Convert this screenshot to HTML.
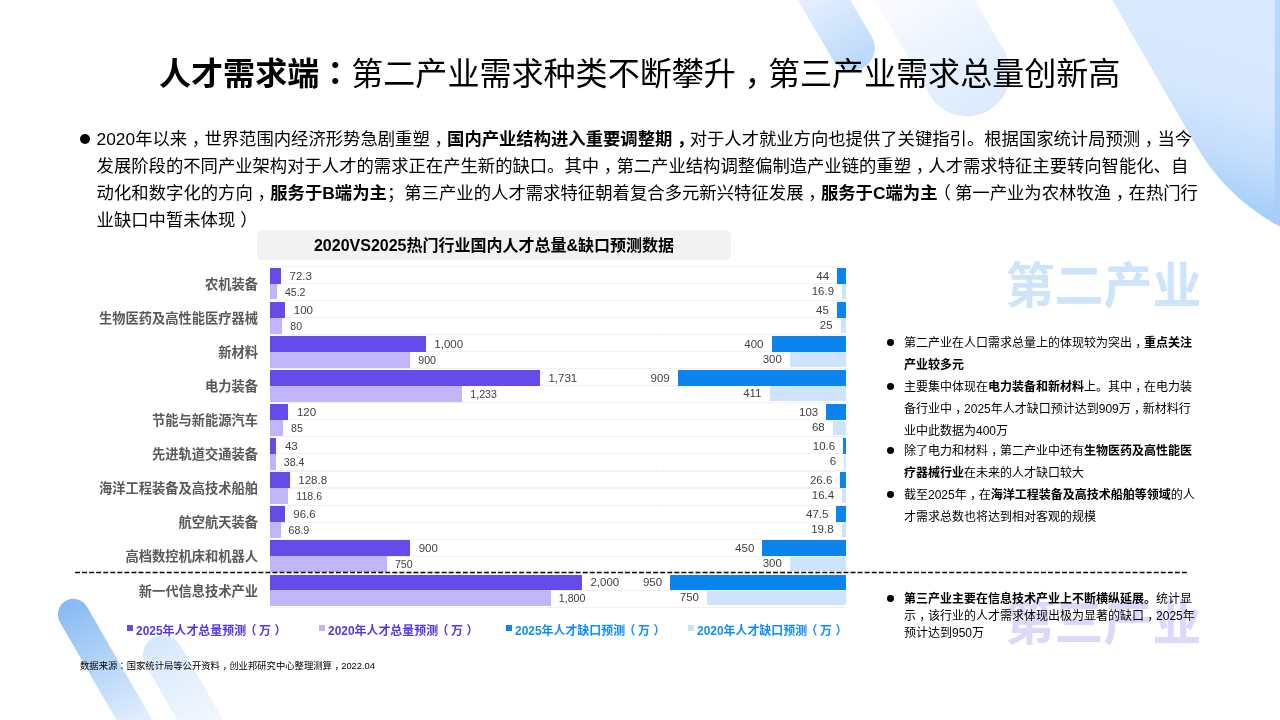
<!DOCTYPE html>
<html lang="zh-CN"><head><meta charset="utf-8"><title>人才需求端</title>
<style>
*{margin:0;padding:0;box-sizing:border-box}
html,body{width:1280px;height:720px;overflow:hidden;background:#fff}
body{position:relative;font-family:"Liberation Sans","Noto Sans CJK SC",sans-serif;color:#000}
.abs{position:absolute}
#bg{position:absolute;left:0;top:0;width:1280px;height:720px}
#title{position:absolute;left:159px;top:51.2px;width:962px;height:46px;font-size:32.05px;line-height:46px;white-space:nowrap;letter-spacing:0}
#title b{font-weight:700}
.pl{position:absolute;left:96.6px;height:27px;line-height:27px;font-size:17.345px;white-space:nowrap;color:#000}
.pl b{font-weight:700}
.dot{position:absolute;border-radius:50%;background:#000}
#ctitle{position:absolute;left:257px;top:230px;width:474px;height:30px;border-radius:5px;background:#f2f2f2;text-align:center;font-weight:700;font-size:16px;line-height:32px;color:#000;white-space:nowrap}
.gl{position:absolute;height:1.2px;background:#f1f1f1}
.bar{position:absolute;height:15.65px}
.c1{background:#664beb}.c2{background:#c0b6f9}.c3{background:#0c84ed}.c4{background:#cee4fc}
.cat{position:absolute;left:60px;width:198px;text-align:right;font-weight:700;font-size:13.25px;line-height:20px;height:20px;color:#595959;white-space:nowrap}
.v1{position:absolute;font-size:11.5px;line-height:14px;height:14px;color:#404040;white-space:nowrap}
.v2{position:absolute;font-size:10.6px;line-height:12px;height:12px;color:#404040;white-space:nowrap}
.r{text-align:right}
.lg{position:absolute;top:622.5px;height:16px;line-height:16px;font-size:11.95px;font-weight:700;white-space:nowrap}
.lg i{position:absolute;top:2.7px;width:6.4px;height:6.3px;display:block}
.big{position:absolute;left:1005.6px;font-weight:700;font-size:49px;line-height:60px;height:60px;white-space:nowrap}
.rl{position:absolute;left:904px;font-size:12px;line-height:18px;height:18px;white-space:nowrap;color:#000}
.rl b{font-weight:700}
#dash{position:absolute;left:0;top:568px;width:1280px;height:10px}
.pz{position:relative}
.cm{position:relative;left:0.27em}
#src{position:absolute;left:80px;top:660px;font-size:9.33px;line-height:12px;white-space:nowrap;color:#000}
</style></head>
<body>
<svg id="bg" width="1280" height="720" viewBox="0 0 1280 720">
<defs>
<linearGradient id="g1" gradientUnits="userSpaceOnUse" x1="0" y1="-13" x2="0" y2="70.6"><stop offset="0" stop-color="#e4eeff" stop-opacity="1"/><stop offset="1" stop-color="#b9d8f9" stop-opacity="1"/></linearGradient>
<linearGradient id="g2" gradientUnits="userSpaceOnUse" x1="0" y1="-17" x2="0" y2="116.3"><stop offset="0" stop-color="#f8faff" stop-opacity="1"/><stop offset="1" stop-color="#daeafd" stop-opacity="1"/></linearGradient>
<linearGradient id="g3" gradientUnits="userSpaceOnUse" x1="1240" y1="10" x2="1183.7" y2="197.8"><stop offset="0" stop-color="#dbeafe"/><stop offset="0.44" stop-color="#d6e8fe"/><stop offset="0.607" stop-color="#cae1fd"/><stop offset="0.73" stop-color="#c2ddfb"/><stop offset="0.883" stop-color="#b0d3fa"/><stop offset="1" stop-color="#a3ccf9"/></linearGradient>
<linearGradient id="g3b" gradientUnits="userSpaceOnUse" x1="0" y1="0" x2="0" y2="226"><stop offset="0" stop-color="#bad8fb"/><stop offset="1" stop-color="#a8cdf9"/></linearGradient>
<linearGradient id="g4" gradientUnits="userSpaceOnUse" x1="0" y1="598.9" x2="0" y2="784"><stop offset="0" stop-color="#86b9f4" stop-opacity="1"/><stop offset="1" stop-color="#86b9f4" stop-opacity="0"/></linearGradient>
<linearGradient id="g5" gradientUnits="userSpaceOnUse" x1="0" y1="635.1" x2="0" y2="788"><stop offset="0" stop-color="#d6e7fc" stop-opacity="1"/><stop offset="1" stop-color="#d6e7fc" stop-opacity="0"/></linearGradient>
</defs>
<g transform="rotate(-30.5 852.2 48)"><rect x="829.6" y="-152" width="45.2" height="222.6" rx="22.6" fill="url(#g1)"/></g>
<g transform="rotate(-30 967 73)"><rect x="923.7" y="-227" width="86.6" height="343.3" rx="43.3" fill="url(#g2)"/></g>
<path d="M946.4,-287 L1196.4,146 A210,210 0 0 0 1560.2,-64 L1310.2,-497 Z" fill="url(#g3)"/>
<polygon points="1274.8,0 1280,0 1280,226.3 1274.8,223" fill="url(#g3b)"/>
<g transform="rotate(-30 73.5 614.5)"><rect x="57.9" y="598.9" width="31.2" height="315.6" rx="15.6" fill="url(#g4)"/></g>
<g transform="rotate(-30 162.8 655)"><rect x="142.9" y="635.1" width="39.8" height="319.9" rx="19.9" fill="url(#g5)"/></g>
</svg>
<div id="title"><b>人才需求端<span lang="ja" style="font-family:'Liberation Sans','Noto Sans CJK JP',sans-serif">：</span></b>第二产业需求种类不断攀升<span class="cm">，</span>第三产业需求总量创新高</div>
<div class="dot" style="left:80px;top:134px;width:10px;height:10px"></div>
<div class="pl" style="top:126.0px">2020年以来<span class="cm">，</span>世界范围内经济形势急剧重塑<span class="cm">，</span><b>国内产业结构进入重要调整期<span class="cm">，</span></b>对于人才就业方向也提供了关键指引。根据国家统计局预测<span class="cm">，</span>当今</div>
<div class="pl" style="top:153.1px">发展阶段的不同产业架构对于人才的需求正在产生新的缺口。其中<span class="cm">，</span>第二产业结构调整偏制造产业链的重塑<span class="cm">，</span>人才需求特征主要转向智能化、自</div>
<div class="pl" style="top:180.2px;font-size:17.36px">动化和数字化的方向<span class="cm">，</span><b>服务于B端为主</b>；第三产业的人才需求特征朝着复合多元新兴特征发展<span class="cm">，</span><b>服务于C端为主</b><span class="pz" style="left:-4px">（</span>第一产业为农林牧渔<span class="cm">，</span>在热门行</div>
<div class="pl" style="top:207.2px">业缺口中暂未体现<span class="pz" style="left:5px">）</span></div>
<div id="ctitle">2020VS2025热门行业国内人才总量&amp;缺口预测数据</div>
<div class="gl" style="left:270px;top:265.9px;width:389.8px"></div><div class="gl" style="left:661.1px;top:265.9px;width:184.7px"></div>
<div class="gl" style="left:270px;top:282.9px;width:389.8px"></div><div class="gl" style="left:661.1px;top:282.9px;width:184.7px"></div>
<div class="gl" style="left:270px;top:300.0px;width:389.8px"></div><div class="gl" style="left:661.1px;top:300.0px;width:184.7px"></div>
<div class="gl" style="left:270px;top:317.0px;width:389.8px"></div><div class="gl" style="left:661.1px;top:317.0px;width:184.7px"></div>
<div class="gl" style="left:270px;top:334.1px;width:389.8px"></div><div class="gl" style="left:661.1px;top:334.1px;width:184.7px"></div>
<div class="gl" style="left:270px;top:351.1px;width:389.8px"></div><div class="gl" style="left:661.1px;top:351.1px;width:184.7px"></div>
<div class="gl" style="left:270px;top:368.1px;width:389.8px"></div><div class="gl" style="left:661.1px;top:368.1px;width:184.7px"></div>
<div class="gl" style="left:270px;top:385.2px;width:389.8px"></div><div class="gl" style="left:661.1px;top:385.2px;width:184.7px"></div>
<div class="gl" style="left:270px;top:402.2px;width:389.8px"></div><div class="gl" style="left:661.1px;top:402.2px;width:184.7px"></div>
<div class="gl" style="left:270px;top:419.3px;width:389.8px"></div><div class="gl" style="left:661.1px;top:419.3px;width:184.7px"></div>
<div class="gl" style="left:270px;top:436.3px;width:389.8px"></div><div class="gl" style="left:661.1px;top:436.3px;width:184.7px"></div>
<div class="gl" style="left:270px;top:453.3px;width:389.8px"></div><div class="gl" style="left:661.1px;top:453.3px;width:184.7px"></div>
<div class="gl" style="left:270px;top:470.4px;width:389.8px"></div><div class="gl" style="left:661.1px;top:470.4px;width:184.7px"></div>
<div class="gl" style="left:270px;top:487.4px;width:389.8px"></div><div class="gl" style="left:661.1px;top:487.4px;width:184.7px"></div>
<div class="gl" style="left:270px;top:504.5px;width:389.8px"></div><div class="gl" style="left:661.1px;top:504.5px;width:184.7px"></div>
<div class="gl" style="left:270px;top:521.5px;width:389.8px"></div><div class="gl" style="left:661.1px;top:521.5px;width:184.7px"></div>
<div class="gl" style="left:270px;top:538.5px;width:389.8px"></div><div class="gl" style="left:661.1px;top:538.5px;width:184.7px"></div>
<div class="gl" style="left:270px;top:555.6px;width:389.8px"></div><div class="gl" style="left:661.1px;top:555.6px;width:184.7px"></div>
<div class="gl" style="left:270px;top:572.6px;width:389.8px"></div><div class="gl" style="left:661.1px;top:572.6px;width:184.7px"></div>
<div class="gl" style="left:270px;top:589.7px;width:389.8px"></div><div class="gl" style="left:661.1px;top:589.7px;width:184.7px"></div>
<div class="gl" style="left:270px;top:606.7px;width:389.8px"></div><div class="gl" style="left:661.1px;top:606.7px;width:184.7px"></div>
<div class="cat" style="top:275.2px">农机装备</div>
<div class="bar c1" style="left:270.1px;top:268.2px;width:11.0px"></div><div class="bar c2" style="left:270.1px;top:283.8px;width:6.8px"></div><div class="bar c3" style="left:837.1px;top:268.2px;width:8.7px"></div><div class="bar c4" style="left:842.1px;top:284.3px;width:3.7px;height:14.4px"></div>
<div class="v1" style="left:289.5px;top:269.0px">72.3</div><div class="v2" style="left:284.9px;top:285.8px">45.2</div><div class="v1 r" style="left:769.1px;width:60px;top:269.0px">44</div><div class="v1 r" style="left:774.1px;width:60px;top:284.0px">16.9</div>
<div class="cat" style="top:309.2px">生物医药及高性能医疗器械</div>
<div class="bar c1" style="left:270.1px;top:302.2px;width:15.3px"></div><div class="bar c2" style="left:270.1px;top:317.9px;width:12.2px"></div><div class="bar c3" style="left:836.9px;top:302.2px;width:8.9px"></div><div class="bar c4" style="left:840.6px;top:318.4px;width:5.2px;height:14.4px"></div>
<div class="v1" style="left:293.8px;top:303.0px">100</div><div class="v2" style="left:290.3px;top:319.9px">80</div><div class="v1 r" style="left:768.9px;width:60px;top:303.0px">45</div><div class="v1 r" style="left:772.6px;width:60px;top:318.1px">25</div>
<div class="cat" style="top:343.3px">新材料</div>
<div class="bar c1" style="left:270.1px;top:336.3px;width:155.8px"></div><div class="bar c2" style="left:270.1px;top:351.9px;width:140.2px"></div><div class="bar c3" style="left:771.5px;top:336.3px;width:74.3px"></div><div class="bar c4" style="left:789.9px;top:352.4px;width:55.9px;height:14.4px"></div>
<div class="v1" style="left:434.3px;top:337.1px">1,000</div><div class="v2" style="left:418.3px;top:353.9px">900</div><div class="v1 r" style="left:703.5px;width:60px;top:337.1px">400</div><div class="v1 r" style="left:721.9px;width:60px;top:352.1px">300</div>
<div class="cat" style="top:377.3px">电力装备</div>
<div class="bar c1" style="left:270.1px;top:370.3px;width:269.9px"></div><div class="bar c2" style="left:270.1px;top:385.9px;width:192.2px"></div><div class="bar c3" style="left:677.7px;top:370.3px;width:168.1px"></div><div class="bar c4" style="left:769.5px;top:386.4px;width:76.3px;height:14.4px"></div>
<div class="v1" style="left:548.4px;top:371.1px">1,731</div><div class="v2" style="left:470.3px;top:387.9px">1,233</div><div class="v1 r" style="left:609.7px;width:60px;top:371.1px">909</div><div class="v1 r" style="left:701.5px;width:60px;top:386.1px">411</div>
<div class="cat" style="top:411.3px">节能与新能源汽车</div>
<div class="bar c1" style="left:270.1px;top:404.3px;width:18.4px"></div><div class="bar c2" style="left:270.1px;top:420.0px;width:13.0px"></div><div class="bar c3" style="left:826.2px;top:404.3px;width:19.6px"></div><div class="bar c4" style="left:832.7px;top:420.5px;width:13.1px;height:14.4px"></div>
<div class="v1" style="left:296.9px;top:405.1px">120</div><div class="v2" style="left:291.1px;top:422.0px">85</div><div class="v1 r" style="left:758.2px;width:60px;top:405.1px">103</div><div class="v1 r" style="left:764.7px;width:60px;top:420.2px">68</div>
<div class="cat" style="top:445.4px">先进轨道交通装备</div>
<div class="bar c1" style="left:270.1px;top:438.4px;width:6.4px"></div><div class="bar c2" style="left:270.1px;top:454.0px;width:5.7px"></div><div class="bar c3" style="left:843.2px;top:438.4px;width:2.6px"></div><div class="bar c4" style="left:844.1px;top:454.5px;width:1.7px;height:14.4px"></div>
<div class="v1" style="left:284.9px;top:439.2px">43</div><div class="v2" style="left:283.8px;top:456.0px">38.4</div><div class="v1 r" style="left:775.2px;width:60px;top:439.2px">10.6</div><div class="v1 r" style="left:776.1px;width:60px;top:454.2px">6</div>
<div class="cat" style="top:479.4px">海洋工程装备及高技术船舶</div>
<div class="bar c1" style="left:270.1px;top:472.4px;width:19.8px"></div><div class="bar c2" style="left:270.1px;top:488.0px;width:18.2px"></div><div class="bar c3" style="left:840.3px;top:472.4px;width:5.5px"></div><div class="bar c4" style="left:842.2px;top:488.5px;width:3.6px;height:14.4px"></div>
<div class="v1" style="left:298.3px;top:473.2px">128.8</div><div class="v2" style="left:296.3px;top:490.0px">118.6</div><div class="v1 r" style="left:772.3px;width:60px;top:473.2px">26.6</div><div class="v1 r" style="left:774.2px;width:60px;top:488.2px">16.4</div>
<div class="cat" style="top:513.4px">航空航天装备</div>
<div class="bar c1" style="left:270.1px;top:506.4px;width:14.8px"></div><div class="bar c2" style="left:270.1px;top:522.1px;width:10.5px"></div><div class="bar c3" style="left:836.4px;top:506.4px;width:9.4px"></div><div class="bar c4" style="left:841.6px;top:522.6px;width:4.2px;height:14.4px"></div>
<div class="v1" style="left:293.3px;top:507.2px">96.6</div><div class="v2" style="left:288.6px;top:524.1px">68.9</div><div class="v1 r" style="left:768.4px;width:60px;top:507.2px">47.5</div><div class="v1 r" style="left:773.6px;width:60px;top:522.3px">19.8</div>
<div class="cat" style="top:547.4px">高档数控机床和机器人</div>
<div class="bar c1" style="left:270.1px;top:540.4px;width:140.2px"></div><div class="bar c2" style="left:270.1px;top:556.1px;width:116.8px"></div><div class="bar c3" style="left:762.3px;top:540.4px;width:83.5px"></div><div class="bar c4" style="left:789.9px;top:556.6px;width:55.9px;height:14.4px"></div>
<div class="v1" style="left:418.7px;top:541.2px">900</div><div class="v2" style="left:394.9px;top:558.1px">750</div><div class="v1 r" style="left:694.3px;width:60px;top:541.2px">450</div><div class="v1 r" style="left:721.9px;width:60px;top:556.3px">300</div>
<div class="cat" style="top:581.5px">新一代信息技术产业</div>
<div class="bar c1" style="left:270.1px;top:574.5px;width:311.9px"></div><div class="bar c2" style="left:270.1px;top:590.1px;width:280.7px"></div><div class="bar c3" style="left:670.1px;top:574.5px;width:175.7px"></div><div class="bar c4" style="left:707.0px;top:590.6px;width:138.8px;height:14.4px"></div>
<div class="v1" style="left:590.4px;top:575.3px">2,000</div><div class="v2" style="left:558.8px;top:592.1px">1,800</div><div class="v1 r" style="left:602.1px;width:60px;top:575.3px">950</div><div class="v1 r" style="left:639.0px;width:60px;top:590.3px">750</div>
<div class="lg" style="left:127px;color:#5239e6"><i style="left:0;background:#664beb"></i><span style="margin-left:9px">2025年人才总量预测<span class="pz" style="left:-1.7px">（</span><span class="pz" style="left:1px">万</span><span class="pz" style="left:4.5px">）</span></span></div>
<div class="lg" style="left:319px;color:#5239e6"><i style="left:0;background:#c0b6f9"></i><span style="margin-left:9px">2020年人才总量预测<span class="pz" style="left:-1.7px">（</span><span class="pz" style="left:1px">万</span><span class="pz" style="left:4.5px">）</span></span></div>
<div class="lg" style="left:506px;color:#138df8"><i style="left:0;background:#0c84ed"></i><span style="margin-left:9px">2025年人才缺口预测<span class="pz" style="left:-1.7px">（</span><span class="pz" style="left:1px">万</span><span class="pz" style="left:4.5px">）</span></span></div>
<div class="lg" style="left:688px;color:#138df8"><i style="left:0;background:#cee4fc"></i><span style="margin-left:9px">2020年人才缺口预测<span class="pz" style="left:-1.7px">（</span><span class="pz" style="left:1px">万</span><span class="pz" style="left:4.5px">）</span></span></div>
<svg id="dash" width="1280" height="10" viewBox="0 0 1280 10"><line x1="75.1" y1="4.4" x2="1187" y2="4.4" stroke="#000" stroke-width="1.5" stroke-dasharray="4.9 2.15"/></svg>
<div class="big" style="top:256px;color:#cde4fb">第二产业</div>
<div class="big" style="top:593px;color:#dcd7fb">第三产业</div>
<div class="dot" style="left:886.8px;top:339.0px;width:6.8px;height:6.8px"></div><div class="rl" style="top:333.5px">第二产业在人口需求总量上的体现较为突出<span class="cm">，</span><b>重点关注</b></div>
<div class="rl" style="top:355.5px"><b>产业较多元</b></div>
<div class="dot" style="left:886.8px;top:383.0px;width:6.8px;height:6.8px"></div><div class="rl" style="top:377.5px">主要集中体现在<b>电力装备和新材料</b>上。其中<span class="cm">，</span>在电力装</div>
<div class="rl" style="top:399.5px">备行业中<span class="cm">，</span>2025年人才缺口预计达到909万<span class="cm">，</span>新材料行</div>
<div class="rl" style="top:421.5px">业中此数据为400万</div>
<div class="dot" style="left:886.8px;top:447.0px;width:6.8px;height:6.8px"></div><div class="rl" style="top:441.5px">除了电力和材料<span class="cm">，</span>第二产业中还有<b>生物医药及高性能医</b></div>
<div class="rl" style="top:463.5px"><b>疗器械行业</b>在未来的人才缺口较大</div>
<div class="dot" style="left:886.8px;top:491.0px;width:6.8px;height:6.8px"></div><div class="rl" style="top:485.5px">截至2025年<span class="cm">，</span>在<b>海洋工程装备及高技术船舶等领域</b>的人</div>
<div class="rl" style="top:507.5px">才需求总数也将达到相对客观的规模</div>
<div class="dot" style="left:886.8px;top:595.0px;width:6.8px;height:6.8px"></div><div class="rl" style="top:589.5px"><b>第三产业主要在信息技术产业上不断横纵延展。</b>统计显</div>
<div class="rl" style="top:606.5px">示<span class="cm">，</span>该行业的人才需求体现出极为显著的缺口<span class="cm">，</span>2025年</div>
<div class="rl" style="top:623.5px">预计达到950万</div>
<div id="src">数据来源<span lang="ja" style="font-family:'Liberation Sans','Noto Sans CJK JP',sans-serif">：</span>国家统计局等公开资料<span class="cm">，</span>创业邦研究中心整理测算<span class="cm">，</span>2022.04</div>
</body></html>
